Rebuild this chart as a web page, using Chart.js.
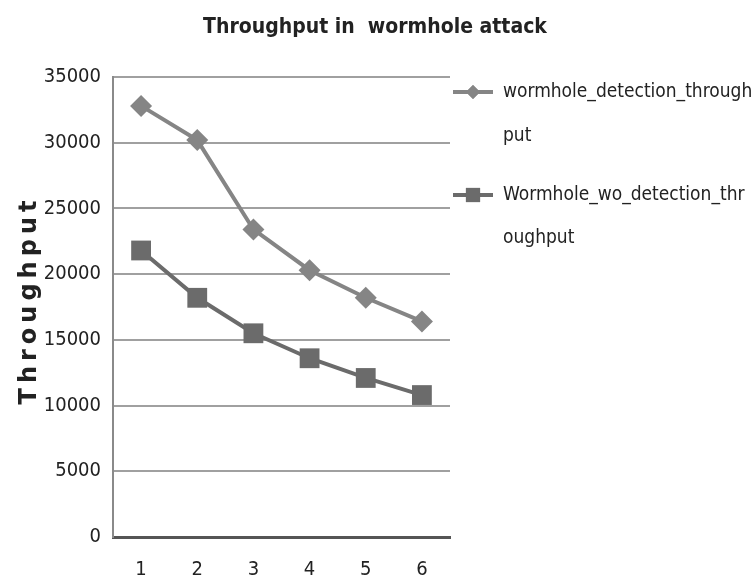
<!DOCTYPE html>
<html>
<head>
<meta charset="utf-8">
<script src="https://cdn.jsdelivr.net/npm/chart.js@4.4.0/dist/chart.umd.min.js"></script>
<style>
	html, body { margin: 0; padding: 0; background: #fff; }
	#wrap { width: 751px; height: 583px; }
</style>
</head>
<body>
<div id="wrap"><canvas id="throughputChart" width="751" height="583"></canvas></div>
<script>
const chartTitle = 'Throughput in  wormhole attack';
const yAxisTitle = 'Throughput';
const labels = ['1', '2', '3', '4', '5', '6'];
const detectionThroughput = [32800, 30200, 23400, 20300, 18200, 16400];
const noDetectionThroughput = [21800, 18200, 15500, 13600, 12100, 10800];
const seriesNames = ['wormhole_detection_throughput', 'Wormhole_wo_detection_throughput'];
// legend text wraps like the original (cut off at the right edge)
const legendLines = [
	['wormhole_detection_through', 'put'],
	['Wormhole_wo_detection_thr', 'oughput']
];

const textColor = '#222';
const condensed = "'DejaVu Sans Condensed', 'DejaVu Sans', sans-serif";

const extraText = {
	id: 'extraText',
	afterDraw(chart) {
		const ctx = chart.ctx;
		ctx.save();
		ctx.fillStyle = textColor;
		ctx.textBaseline = 'middle';

		// title
		ctx.font = 'bold 21px ' + condensed;
		ctx.textAlign = 'center';
		ctx.fillText(chartTitle, 375, 28);

		// y axis title, wide spaced
		ctx.save();
		ctx.translate(30, 300);
		ctx.rotate(-Math.PI / 2);
		ctx.font = "bold 24px 'DejaVu Sans', sans-serif";
		ctx.letterSpacing = '5px';
		ctx.fillText(yAxisTitle, 0, 0);
		ctx.restore();

		// legend
		const rows = [[92, 136], [195, 238]];
		chart.data.datasets.forEach((ds, i) => {
			const y = rows[i][0];
			ctx.strokeStyle = ds.borderColor;
			ctx.lineWidth = 4;
			ctx.beginPath();
			ctx.moveTo(453, y);
			ctx.lineTo(493, y);
			ctx.stroke();
			ctx.fillStyle = ds.borderColor;
			Chart.helpers.drawPoint(ctx, { pointStyle: ds.pointStyle, radius: i == 0 ? 7 : 10, rotation: 0, borderWidth: 0 }, 473, y);
			ctx.fill();
			ctx.fillStyle = textColor;
			ctx.font = '19px ' + condensed;
			ctx.textAlign = 'left';
			legendLines[i].forEach((line, j) => {
				ctx.fillText(line, 503, rows[i][j]);
			});
		});
		ctx.restore();
	}
};

new Chart(document.getElementById('throughputChart'), {
	type: 'line',
	data: {
		labels: labels,
		datasets: [{
			label: seriesNames[0],
			data: detectionThroughput,
			borderColor: '#858585',
			backgroundColor: '#858585',
			borderWidth: 4,
			pointStyle: 'rectRot',
			pointRadius: 11,
			pointBorderWidth: 0,
			tension: 0
		}, {
			label: seriesNames[1],
			data: noDetectionThroughput,
			borderColor: '#6b6b6b',
			backgroundColor: '#6b6b6b',
			borderWidth: 4,
			pointStyle: 'rect',
			pointRadius: 14,
			pointBorderWidth: 0,
			tension: 0
		}]
	},
	options: {
		responsive: false,
		animation: false,
		layout: {
			padding: { left: 0, top: 77, right: 301, bottom: 0 }
		},
		plugins: {
			legend: { display: false },
			title: { display: false },
			tooltip: { enabled: false }
		},
		scales: {
			x: {
				offset: true,
				grid: { display: false },
				border: { display: true, color: '#555', width: 3 },
				ticks: {
					color: textColor,
					font: { family: condensed, size: 20 },
					padding: 13
				},
				afterFit(scale) {
					scale.height = 46;
				}
			},
			y: {
				min: 0,
				max: 35000,
				ticks: {
					stepSize: 5000,
					color: textColor,
					font: { family: condensed, size: 20 },
					padding: 12,
					callback: (value) => String(value)
				},
				grid: { color: '#a0a0a0', lineWidth: 2, drawTicks: false },
				border: { display: true, color: '#8a8a8a', width: 2 },
				afterFit(scale) {
					scale.width = 113;
				}
			}
		}
	},
	plugins: [extraText]
});
</script>
</body>
</html>
